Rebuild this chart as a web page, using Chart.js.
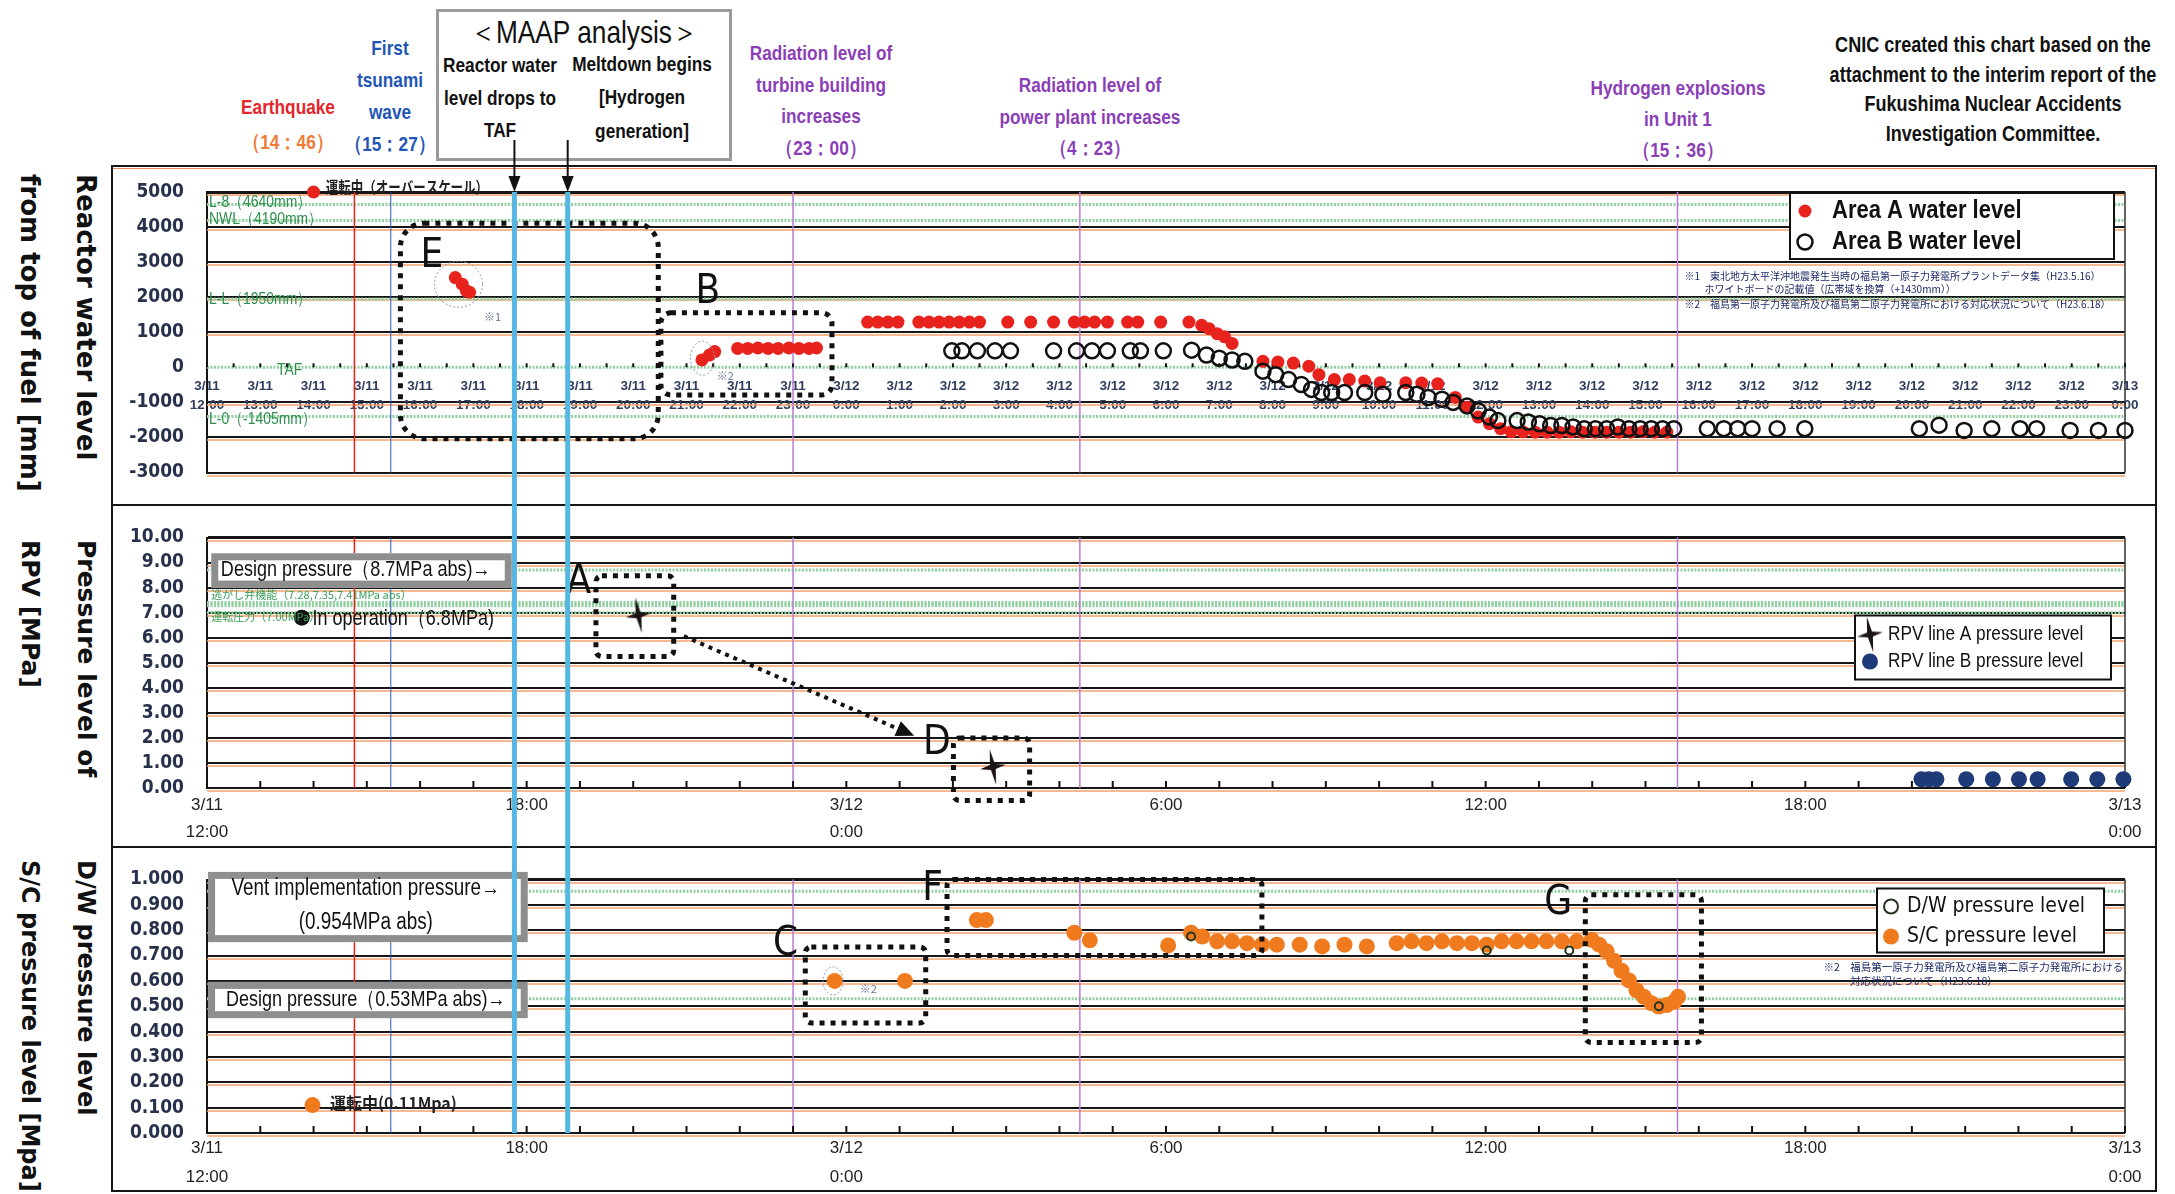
<!DOCTYPE html>
<html lang="en">
<head>
<meta charset="utf-8">
<title>Fukushima Daiichi Unit 1 - water level and pressure</title>
<script src="https://cdn.jsdelivr.net/npm/chart.js@4.4.1/dist/chart.umd.min.js"></script>
<style>
  html, body { margin: 0; padding: 0; background: #fff; }
  #page { position: relative; width: 2175px; height: 1194px; overflow: hidden; background: #fff; }
  .hd { position: absolute; transform: translateX(-50%) scaleX(0.82); text-align: center; white-space: nowrap;
        font-family: 'Liberation Sans', Arimo, sans-serif; font-weight: bold; font-size: 21px; z-index: 2; }
  .ytitle { position: absolute; left: 2px; writing-mode: vertical-rl; white-space: nowrap;
            font-family: 'DejaVu Sans', sans-serif; font-weight: bold; font-size: 25px; line-height: 56px; color: #111; }
  .rule { position: absolute; background: #161616; }
  #maap { position: absolute; left: 436px; top: 9px; width: 290px; height: 146px; border: 3px solid #9a9a9a; background: #fff; z-index: 1; }
  canvas { position: absolute; left: 0; z-index: 3; }
</style>
</head>
<body>
<div id="page">
  <div class="rule" style="left:112px;top:165px;width:2045px;height:2px"></div>
  <div class="rule" style="left:112px;top:168px;width:2045px;height:1px;background:#f08a5a"></div>
  <div class="rule" style="left:112px;top:504px;width:2045px;height:2px"></div>
  <div class="rule" style="left:112px;top:846px;width:2045px;height:2px"></div>
  <div class="rule" style="left:112px;top:1190px;width:2045px;height:2px"></div>
  <div class="rule" style="left:111px;top:165px;width:2px;height:1027px"></div>
  <div class="rule" style="left:2155px;top:165px;width:2px;height:1027px"></div>

  <div class="hd" style="left:288px;top:89px;line-height:35px;color:#e3262b">Earthquake<br><span style="color:#ef7b37">（14：46）</span></div>
  <div class="hd" style="left:390px;top:32px;line-height:32px;color:#1f56b5">First<br>tsunami<br>wave<br>（15：27）</div>
  <div id="maap"></div>
  <div class="hd" style="left:584px;top:12px;line-height:40px;font-size:32px;font-weight:normal;color:#111">＜MAAP analysis＞</div>
  <div class="hd" style="left:500px;top:49px;line-height:32.5px;color:#111">Reactor water<br>level drops to<br>TAF</div>
  <div class="hd" style="left:642px;top:47px;line-height:33.3px;color:#111">Meltdown begins<br>[Hydrogen<br>generation]</div>
  <div class="hd" style="left:821px;top:37px;line-height:31.7px;color:#8b3fb6">Radiation level of<br>turbine building<br>increases<br>（23：00）</div>
  <div class="hd" style="left:1090px;top:69px;line-height:31.7px;color:#8b3fb6">Radiation level of<br>power plant increases<br>（4：23）</div>
  <div class="hd" style="left:1678px;top:73px;line-height:30.8px;color:#8b3fb6">Hydrogen explosions<br>in Unit 1<br>（15：36）</div>
  <div class="hd" style="left:1993px;top:30px;line-height:29.5px;font-size:22px;color:#111">CNIC created this chart based on the<br>attachment to the interim report of the<br>Fukushima Nuclear Accidents<br>Investigation Committee.</div>

  <div class="ytitle" style="top:174px;font-size:26px">Reactor water level<br>from top of fuel [mm]</div>
  <div class="ytitle" style="top:540px">Pressure level of<br>RPV [MPa]</div>
  <div class="ytitle" style="top:860px;font-size:24px">D/W pressure level<br>S/C pressure level [Mpa]</div>

  <canvas id="c1" width="2175" height="365" style="top:140px"></canvas>
  <canvas id="c2" width="2175" height="342" style="top:505px"></canvas>
  <canvas id="c3" width="2175" height="347" style="top:847px"></canvas>
</div>
<script>
const SANS = "'Liberation Sans',Arimo,sans-serif";
const COND = "'DejaVu Sans Condensed','DejaVu Sans',sans-serif";
const JP = "'Noto Sans CJK JP','DejaVu Sans',sans-serif";
const NARROW_X = 0.82;   // horizontal squeeze that turns Liberation Sans into a narrow face

// all times are hours after 3/11 12:00
// reactor water level [mm]
const areaA = [
  [2.00, 5000],
  [4.66, 2560], [4.79, 2370], [4.87, 2180], [4.93, 2140],
  [9.29, 210], [9.43, 350], [9.53, 450], [9.96, 540], [10.15, 540], [10.34, 550], [10.53, 540], [10.72, 540],
  [10.92, 550], [11.11, 540], [11.30, 540], [11.44, 550],
  [12.40, 1290], [12.59, 1290], [12.78, 1290], [12.97, 1290],
  [13.36, 1290], [13.55, 1290], [13.74, 1290], [13.93, 1290], [14.12, 1290], [14.31, 1290], [14.50, 1290],
  [15.03, 1290], [15.46, 1290], [15.89, 1290], [16.28, 1290], [16.47, 1290], [16.66, 1290], [16.90, 1290],
  [17.28, 1290], [17.47, 1290], [17.90, 1290], [18.43, 1290],
  [18.67, 1200], [18.81, 1100], [18.96, 960], [19.10, 870], [19.24, 680],
  [19.82, 170], [20.10, 150], [20.39, 120], [20.68, 30], [20.87, -210], [21.16, -350], [21.44, -350],
  [21.73, -390], [22.02, -440], [22.50, -440], [22.80, -450], [23.10, -470],
  [23.43, -860], [23.65, -1140], [23.86, -1420], [24.07, -1610], [24.28, -1750],
  [24.48, -1840], [24.70, -1840], [24.93, -1850], [25.15, -1850], [25.38, -1850], [25.60, -1840], [25.82, -1850],
  [26.05, -1850], [26.27, -1850], [26.50, -1850], [26.72, -1850], [26.95, -1840], [27.17, -1850], [27.40, -1850]
];
const areaB = [
  [13.98, 470], [14.17, 470], [14.46, 470], [14.79, 470], [15.08, 470],
  [15.89, 470], [16.32, 470], [16.61, 470], [16.90, 470], [17.33, 470], [17.52, 470], [17.95, 470],
  [18.48, 490], [18.76, 350], [19.00, 260], [19.24, 210], [19.48, 170],
  [19.82, -110], [20.06, -210], [20.30, -350], [20.54, -490], [20.73, -630], [20.92, -720], [21.11, -720],
  [21.35, -720], [21.73, -720], [22.07, -770],
  [22.50, -720], [22.71, -770], [22.92, -860], [23.18, -910], [23.39, -1000], [23.65, -1100], [23.86, -1240],
  [24.07, -1420], [24.23, -1520], [24.59, -1520], [24.80, -1560], [25.01, -1610], [25.22, -1660], [25.43, -1660],
  [25.64, -1700], [25.85, -1750], [26.06, -1750], [26.27, -1750], [26.48, -1700], [26.69, -1750], [26.90, -1750],
  [27.11, -1750], [27.32, -1750], [27.53, -1750],
  [28.16, -1750], [28.47, -1750], [28.73, -1750], [29.00, -1750], [29.47, -1750], [29.99, -1750],
  [32.14, -1750], [32.51, -1650], [32.98, -1800], [33.50, -1750], [34.03, -1750], [34.34, -1750],
  [34.97, -1800], [35.50, -1800], [36.00, -1800]
];

// RPV pressure [MPa]
const rpvA = [[8.10, 6.9], [14.75, 0.84]];
const rpvB = [[32.18, 0.35], [32.32, 0.35], [32.46, 0.35], [33.02, 0.35], [33.52, 0.35],
              [34.01, 0.35], [34.36, 0.35], [34.99, 0.35], [35.48, 0.35], [35.97, 0.35]];
const rpvInOperation = [[1.78, 6.8]];

// containment pressure [MPa]
const dwPressure = [[18.47, 0.775], [24.02, 0.72], [25.57, 0.72], [27.25, 0.50]];
const scPressure = [
  [1.98, 0.11],
  [11.78, 0.60], [13.10, 0.60],
  [14.45, 0.84], [14.62, 0.84],
  [16.28, 0.79], [16.57, 0.76],
  [18.04, 0.74], [18.47, 0.79],
  [18.68, 0.775], [18.96, 0.756], [19.24, 0.756], [19.52, 0.749], [19.80, 0.743], [20.08, 0.743], [20.51, 0.743],
  [20.93, 0.736], [21.35, 0.743], [21.77, 0.736], [22.33, 0.749], [22.61, 0.756], [22.89, 0.749], [23.18, 0.756],
  [23.46, 0.749], [23.74, 0.749], [24.02, 0.743], [24.30, 0.756], [24.58, 0.756], [24.86, 0.756], [25.14, 0.756],
  [25.43, 0.756], [25.71, 0.756], [25.99, 0.762],
  [26.13, 0.743], [26.27, 0.717], [26.41, 0.679], [26.55, 0.640], [26.69, 0.602], [26.83, 0.563], [26.97, 0.537],
  [27.11, 0.512], [27.25, 0.499], [27.40, 0.505], [27.54, 0.518], [27.61, 0.537]
];

// events
const eventHours = { earthquake: 2.767, tsunami: 3.45, turbine: 11.0, plant: 16.383, explosion: 27.6 };
const maapHours = [5.77, 6.77];

// reference levels
const waterLevels = [4640, 4190, 1950, 0, -1405];
const waterLevelNames = ['L-8（4640mm）', 'NWL（4190mm）', 'L-L（1950mm）', 'TAF', 'L-0（-1405mm）'];
const rpvLevels = [8.7, 7.41, 7.35, 7.28, 7.0];
const pcvLevels = [0.954, 0.53];

// tick labels
const hourTickDates = ['3/11', '3/11', '3/11', '3/11', '3/11', '3/11', '3/11', '3/11', '3/11', '3/11', '3/11', '3/11',
  '3/12', '3/12', '3/12', '3/12', '3/12', '3/12', '3/12', '3/12', '3/12', '3/12', '3/12', '3/12',
  '3/12', '3/12', '3/12', '3/12', '3/12', '3/12', '3/12', '3/12', '3/12', '3/12', '3/12', '3/12', '3/13'];
const hourTickTimes = ['12:00', '13:00', '14:00', '15:00', '16:00', '17:00', '18:00', '19:00', '20:00', '21:00', '22:00', '23:00',
  '0:00', '1:00', '2:00', '3:00', '4:00', '5:00', '6:00', '7:00', '8:00', '9:00', '10:00', '11:00',
  '12:00', '13:00', '14:00', '15:00', '16:00', '17:00', '18:00', '19:00', '20:00', '21:00', '22:00', '23:00', '0:00'];
const pressureTickHours = [0, 6, 12, 18, 24, 30, 36];
const pressureTickLabels = [['3/11', '12:00'], '18:00', ['3/12', '0:00'], '6:00', '12:00', '18:00', ['3/13', '0:00']];

const xy = pts => pts.map(([x, y]) => ({ x, y }));

const eventLines = [
  { h: eventHours.earthquake, color: '#e2231a', width: 1.5 },
  { h: eventHours.tsunami, color: '#2f55c4', width: 1 },
  { h: eventHours.turbine, color: '#b77bd6', width: 1.5 },
  { h: eventHours.plant, color: '#b77bd6', width: 1.5 },
  { h: eventHours.explosion, color: '#b77bd6', width: 1.5 }
];

// 4 pointed star used for RPV line A
const star = (() => {
  const c = document.createElement('canvas');
  c.width = 36; c.height = 38;
  const g = c.getContext('2d');
  g.translate(18, 19);
  g.rotate(-0.18);
  g.fillStyle = '#1c1414';
  g.beginPath();
  const arm = [18, 13, 18, 13];
  for (let k = 0; k < 4; k++) {
    const a = -Math.PI / 2 + k * Math.PI / 2;
    g.lineTo(Math.cos(a) * arm[k], Math.sin(a) * arm[k]);
    const m = a + Math.PI / 4;
    g.lineTo(Math.cos(m) * 3.5, Math.sin(m) * 3.5);
  }
  g.closePath();
  g.fill();
  return c;
})();

function hline(ctx, x0, x1, y) { ctx.beginPath(); ctx.moveTo(x0, y); ctx.lineTo(x1, y); ctx.stroke(); }
function vline(ctx, x, y0, y1) { ctx.beginPath(); ctx.moveTo(x, y0); ctx.lineTo(x, y1); ctx.stroke(); }

// text with optional horizontal squeeze
function say(ctx, t, x, y, font, color, align, sx) {
  ctx.save();
  ctx.translate(x, y);
  ctx.scale(sx || 1, 1);
  ctx.font = font;
  ctx.fillStyle = color || '#111';
  ctx.textAlign = align || 'left';
  ctx.textBaseline = 'middle';
  ctx.fillText(t, 0, 0);
  ctx.restore();
}

function marker(ctx, ds, cx, cy, r) {
  if (typeof ds.pointStyle === 'object') {
    ctx.drawImage(ds.pointStyle, cx - ds.pointStyle.width / 2, cy - ds.pointStyle.height / 2);
    return;
  }
  ctx.beginPath();
  ctx.arc(cx, cy, r || ds.pointRadius, 0, Math.PI * 2);
  ctx.fillStyle = ds.backgroundColor;
  ctx.fill();
  if (ds.borderWidth) { ctx.lineWidth = ds.borderWidth; ctx.strokeStyle = ds.borderColor; ctx.stroke(); }
}

const overlay = {
  id: 'overlay',
  beforeDatasetsDraw(chart, args, o) {
    const { ctx, chartArea: a, scales: { x, y } } = chart;
    ctx.save();
    // orange companion line under each grid line
    ctx.strokeStyle = '#f3a26c';
    ctx.lineWidth = 1.5;
    y.ticks.forEach(t => {
      if (t.value === o.skip) return;
      hline(ctx, a.left, a.right, Math.round(y.getPixelForValue(t.value)) + 3);
    });
    ctx.strokeStyle = '#333';
    vline(ctx, a.right, a.top, a.bottom);
    // green reference levels
    ctx.strokeStyle = '#8fd2a0';
    ctx.lineWidth = 3;
    ctx.setLineDash([2, 1.5]);
    (o.levels || []).forEach(v => hline(ctx, a.left, a.right, y.getPixelForValue(v)));
    ctx.setLineDash([]);
    (o.levelLabels || []).forEach(l => {
      say(ctx, waterLevelNames[l.i], a.left + l.dx, y.getPixelForValue(waterLevels[l.i]) + l.dy,
        `17px ${SANS}`, '#2e8f4e', 'left', NARROW_X);
    });
    // event lines
    eventLines.forEach(e => {
      ctx.strokeStyle = e.color;
      ctx.lineWidth = e.width;
      vline(ctx, x.getPixelForValue(e.h), a.top, a.bottom);
    });
    // small tick marks along the time axis
    const ty = y.getPixelForValue(o.tickAt);
    ctx.strokeStyle = '#111';
    ctx.lineWidth = 2;
    for (let h = 0; h <= 36; h += o.tickStep) {
      vline(ctx, x.getPixelForValue(h), ty - o.tickLen, ty);
    }
    ctx.restore();
  },
  afterDatasetsDraw(chart, args, o) {
    const { ctx, chartArea: a, scales: { x, y } } = chart;
    const X = v => x.getPixelForValue(v);
    const Y = v => y.getPixelForValue(v);
    ctx.save();
    // thin dotted ellipses round the footnoted points
    ctx.strokeStyle = '#8a97a8';
    ctx.lineWidth = 1;
    ctx.setLineDash([2, 2]);
    (o.ellipses || []).forEach(e => {
      ctx.beginPath();
      ctx.ellipse(X(e.x), Y(e.y), e.rx, e.ry, 0, 0, Math.PI * 2);
      ctx.stroke();
    });
    // dotted callout boxes
    ctx.strokeStyle = '#111';
    ctx.lineWidth = 5;
    ctx.setLineDash([5, 6]);
    (o.boxes || []).forEach(b => {
      ctx.beginPath();
      ctx.roundRect(X(b.x0), Y(b.y0), X(b.x1) - X(b.x0), Y(b.y1) - Y(b.y0), b.r || 6);
      ctx.stroke();
    });
    if (o.arrow) {
      const ar = o.arrow;
      const x0 = X(ar.x0), y0 = Y(ar.y0), x1 = X(ar.x1), y1 = Y(ar.y1);
      ctx.lineWidth = 4;
      ctx.setLineDash([4, 5]);
      ctx.beginPath(); ctx.moveTo(x0, y0); ctx.lineTo(x1, y1); ctx.stroke();
      ctx.setLineDash([]);
      const ang = Math.atan2(y1 - y0, x1 - x0);
      ctx.fillStyle = '#111';
      ctx.beginPath();
      ctx.moveTo(x1 + 6 * Math.cos(ang), y1 + 6 * Math.sin(ang));
      ctx.lineTo(x1 - 12 * Math.cos(ang) + 8 * Math.sin(ang), y1 - 12 * Math.sin(ang) - 8 * Math.cos(ang));
      ctx.lineTo(x1 - 12 * Math.cos(ang) - 8 * Math.sin(ang), y1 - 12 * Math.sin(ang) + 8 * Math.cos(ang));
      ctx.closePath();
      ctx.fill();
    }
    ctx.setLineDash([]);
    // grey framed notes
    (o.labelBoxes || []).forEach(b => {
      const x0 = X(b.x0), x1 = X(b.x1), y0 = Y(b.y0), y1 = Y(b.y1);
      ctx.fillStyle = '#fff';
      ctx.fillRect(x0, y0, x1 - x0, y1 - y0);
      ctx.strokeStyle = '#8e8e8e';
      ctx.lineWidth = 7;
      ctx.strokeRect(x0 + 3.5, y0 + 3.5, x1 - x0 - 7, y1 - y0 - 7);
    });
    (o.texts || []).forEach(t => say(ctx, t.t, X(t.x), Y(t.y), t.font, t.color, t.align, t.sx));
    (o.letters || []).forEach(t => say(ctx, t.t, X(t.x), Y(t.y), `40px ${COND}`, '#111', 'center'));
    // MAAP times: thick cyan lines crossing all panels
    if (o.cyan) {
      ctx.strokeStyle = '#56b8e2';
      ctx.lineWidth = 5;
      const top = o.cyan.top === 'area' ? a.top : 0;
      const bottom = o.cyan.bottom === 'area' ? a.bottom : chart.height;
      maapHours.forEach(h => vline(ctx, X(h), top, bottom));
      if (o.cyan.arrows) {
        ctx.strokeStyle = '#111';
        ctx.fillStyle = '#111';
        ctx.lineWidth = 2;
        maapHours.forEach(h => {
          const px = X(h);
          vline(ctx, px, 0, a.top - 12);
          ctx.beginPath();
          ctx.moveTo(px - 6, a.top - 16); ctx.lineTo(px + 6, a.top - 16); ctx.lineTo(px, a.top);
          ctx.closePath(); ctx.fill();
        });
      }
    }
    // legend box
    if (o.legend) {
      const L = o.legend;
      const bx = a.right - L.right - L.w, by = a.top + L.top;
      ctx.fillStyle = '#fff';
      ctx.fillRect(bx, by, L.w, L.h);
      ctx.strokeStyle = '#111';
      ctx.lineWidth = 2;
      ctx.strokeRect(bx, by, L.w, L.h);
      L.items.forEach((di, k) => {
        const ds = chart.data.datasets[di];
        marker(ctx, ds, bx + L.mx, by + L.rows[k], L.radius ? L.radius[k] : 0);
        say(ctx, ds.label, bx + L.tx, by + L.rows[k], L.font, '#111', 'left', L.sx);
      });
    }
    ctx.restore();
  }
};

function valueAxis(min, max, step, digits, skip) {
  return {
    min, max,
    ticks: {
      stepSize: step, autoSkip: false, padding: 23, color: '#27314b',
      font: { family: COND, size: 19, weight: 'bold', lineHeight: 1 },
      callback: v => digits ? Number(v).toFixed(digits) : String(v)
    },
    grid: {
      drawTicks: false,
      color: c => (c.tick && c.tick.value === skip) ? 'rgba(0,0,0,0)' : '#161616',
      lineWidth: c => (c.tick && c.tick.value === max) ? 3 : 2
    },
    border: { color: '#161616', width: 2 },
    afterFit: s => { s.width = 207; }
  };
}

function pressureTimeAxis(lineHeight, padding, height) {
  return {
    type: 'linear', min: 0, max: 36, position: 'bottom',
    ticks: {
      stepSize: 1, autoSkip: false, maxRotation: 0, padding, color: '#222',
      font: { family: SANS, size: 17, lineHeight },
      callback: v => { const k = pressureTickHours.indexOf(v); return k < 0 ? '' : pressureTickLabels[k]; }
    },
    grid: { display: false, drawTicks: false },
    border: { display: false },
    afterFit: s => { s.height = height; }
  };
}

const base = { responsive: false, animation: false, events: [] };

// reactor water level
new Chart(document.getElementById('c1'), {
  type: 'scatter',
  data: {
    datasets: [
      { label: 'Area A water level', data: xy(areaA), order: 2, pointRadius: 6.5, backgroundColor: '#e8231e',
        borderColor: '#e8231e', borderWidth: 0, clip: false },
      { label: 'Area B water level', data: xy(areaB), order: 1, pointRadius: 7.5, backgroundColor: 'rgba(255,255,255,0)',
        borderColor: '#111', borderWidth: 2.5, clip: false }
    ]
  },
  options: {
    ...base,
    layout: { padding: { left: 0, right: 50, top: 52, bottom: 28 } },
    scales: {
      x: {
        type: 'linear', min: 0, max: 36, position: { y: 0 },
        ticks: {
          stepSize: 1, autoSkip: false, maxRotation: 0, padding: 10, color: '#2f3d5e',
          font: { family: SANS, size: 13.5, weight: 'bold', lineHeight: 1.36 },
          callback: (v, i) => [hourTickDates[i], hourTickTimes[i]]
        },
        grid: { display: false, drawTicks: false },
        border: { display: false }
      },
      y: valueAxis(-3000, 5000, 1000, 0, 0)
    },
    plugins: {
      legend: { display: false },
      tooltip: { enabled: false },
      overlay: {
        skip: 0, tickAt: 0, tickStep: 0.5, tickLen: 4,
        levels: waterLevels,
        levelLabels: [{ i: 0, dx: 2, dy: -2 }, { i: 1, dx: 2, dy: -1 }, { i: 2, dx: 2, dy: 0 }, { i: 3, dx: 70, dy: 3 }, { i: 4, dx: 2, dy: 3 }],
        cyan: { top: 'area', bottom: 'canvas', arrows: true },
        ellipses: [{ x: 4.72, y: 2368, rx: 24, ry: 23 }, { x: 9.3, y: 260, rx: 12, ry: 17 }],
        boxes: [{ x0: 3.63, x1: 8.47, y0: 4110, y1: -2035, r: 24 }, { x0: 8.52, x1: 11.73, y0: 1553, y1: -787, r: 10 }],
        letters: [{ t: 'E', x: 4.22, y: 3160 }, { t: 'B', x: 9.40, y: 2135 }],
        texts: [
          { t: '運転中（オーバースケール）', x: 2.23, y: 5140, font: `bold 16px ${JP}`, color: '#1f1f1f', sx: 0.78 },
          { t: '※1', x: 5.2, y: 1440, font: `11px ${JP}`, color: '#6a7390' },
          { t: '※2', x: 9.57, y: -240, font: `11px ${JP}`, color: '#6a7390' },
          { t: '※1　東北地方太平洋沖地震発生当時の福島第一原子力発電所プラントデータ集（H23.5.16）', x: 27.73, y: 2600, font: `10px ${JP}`, color: '#1d2a66' },
          { t: '　　ホワイトボードの記載値（広帯域を換算（+1430mm））', x: 27.73, y: 2228, font: `10px ${JP}`, color: '#1d2a66' },
          { t: '※2　福島第一原子力発電所及び福島第二原子力発電所における対応状況について（H23.6.18）', x: 27.73, y: 1806, font: `10px ${JP}`, color: '#1d2a66' }
        ],
        legend: { right: 11, top: 1, w: 324, h: 66, mx: 15, tx: 42, rows: [18, 49], font: `bold 25px ${SANS}`, sx: 0.88, items: [0, 1] }
      }
    }
  },
  plugins: [overlay]
});

// RPV pressure
new Chart(document.getElementById('c2'), {
  type: 'scatter',
  data: {
    datasets: [
      { label: 'RPV line A pressure level', data: xy(rpvA), pointStyle: star, pointRadius: 16, clip: false },
      { label: 'RPV line B pressure level', data: xy(rpvB), pointRadius: 8, backgroundColor: '#1f3a78',
        borderColor: '#1f3a78', borderWidth: 0, clip: false },
      { label: 'In operation', data: xy(rpvInOperation), pointRadius: 8, backgroundColor: '#111',
        borderColor: '#111', borderWidth: 0, clip: false }
    ]
  },
  options: {
    ...base,
    layout: { padding: { left: 0, right: 50, top: 26, bottom: 3 } },
    scales: { x: pressureTimeAxis(1.58, 4, 56), y: valueAxis(0, 10, 1, 2) },
    plugins: {
      legend: { display: false },
      tooltip: { enabled: false },
      overlay: {
        tickAt: 0, tickStep: 1, tickLen: 7,
        levels: rpvLevels,
        cyan: { top: 'canvas', bottom: 'canvas' },
        boxes: [{ x0: 7.3, x1: 8.76, y0: 8.47, y1: 5.25 }, { x0: 14.01, x1: 15.44, y0: 2.0, y1: -0.5 }],
        arrow: { x0: 8.95, y0: 6.06, x1: 13.17, y1: 2.18 },
        letters: [{ t: 'A', x: 6.98, y: 8.2 }, { t: 'D', x: 13.7, y: 1.77 }],
        labelBoxes: [{ x0: 0.08, x1: 5.72, y0: 9.37, y1: 8.0 }],
        texts: [
          { t: 'Design pressure（8.7MPa abs)→', x: 0.26, y: 8.72, font: `22px ${SANS}`, sx: NARROW_X },
          { t: '逃がし弁機能（7.28,7.35,7.41MPa abs）', x: 0.08, y: 7.7, font: `11px ${JP}`, color: '#3aa05a' },
          { t: '運転圧力（7.00MPa）', x: 0.08, y: 6.82, font: `11px ${JP}`, color: '#3aa05a' },
          { t: 'In operation（6.8MPa)', x: 1.98, y: 6.73, font: `22px ${SANS}`, sx: NARROW_X }
        ],
        legend: { right: 14, top: 78, w: 256, h: 64, mx: 15, tx: 33, rows: [19, 46], font: `21px ${SANS}`, sx: NARROW_X, items: [0, 1] }
      }
    }
  },
  plugins: [overlay]
});

// D/W and S/C pressure
new Chart(document.getElementById('c3'), {
  type: 'scatter',
  data: {
    datasets: [
      { label: 'D/W pressure level', data: xy(dwPressure), order: 0, pointRadius: 4, backgroundColor: 'rgba(255,255,255,0)',
        borderColor: '#24351f', borderWidth: 2, clip: false },
      { label: 'S/C pressure level', data: xy(scPressure), order: 1, pointRadius: 8, backgroundColor: '#f07b1f',
        borderColor: '#f07b1f', borderWidth: 0, clip: false }
    ]
  },
  options: {
    ...base,
    layout: { padding: { left: 0, right: 50, top: 26, bottom: 3 } },
    scales: { x: pressureTimeAxis(1.68, 1, 58), y: valueAxis(0, 1, 0.1, 3) },
    plugins: {
      legend: { display: false },
      tooltip: { enabled: false },
      overlay: {
        tickAt: 0, tickStep: 1, tickLen: 7,
        levels: pcvLevels,
        cyan: { top: 'canvas', bottom: 'area' },
        ellipses: [{ x: 11.75, y: 0.6, rx: 10, ry: 14 }],
        boxes: [
          { x0: 11.23, x1: 13.49, y0: 0.734, y1: 0.434 },
          { x0: 13.89, x1: 19.8, y0: 1.0, y1: 0.70 },
          { x0: 25.87, x1: 28.05, y0: 0.94, y1: 0.357 }
        ],
        letters: [{ t: 'C', x: 10.86, y: 0.742 }, { t: 'F', x: 13.62, y: 0.962 }, { t: 'G', x: 25.36, y: 0.905 }],
        labelBoxes: [{ x0: 0.02, x1: 6.02, y0: 1.03, y1: 0.753 }, { x0: 0.02, x1: 6.02, y0: 0.596, y1: 0.453 }],
        texts: [
          { t: 'Vent implementation pressure→', x: 2.98, y: 0.962, font: `23px ${SANS}`, align: 'center', sx: NARROW_X },
          { t: '(0.954MPa abs)', x: 2.98, y: 0.831, font: `23px ${SANS}`, align: 'center', sx: NARROW_X },
          { t: 'Design pressure（0.53MPa abs)→', x: 2.98, y: 0.523, font: `22px ${SANS}`, align: 'center', sx: NARROW_X },
          { t: '運転中(0.11Mpa)', x: 2.31, y: 0.12, font: `bold 16px ${JP}`, color: '#1f1f1f' },
          { t: '※2', x: 12.25, y: 0.57, font: `11px ${JP}`, color: '#6a7390' },
          { t: '※2　福島第一原子力発電所及び福島第二原子力発電所における', x: 30.34, y: 0.654, font: `10.5px ${JP}`, color: '#1d2a66' },
          { t: '対応状況について（H23.6.18）', x: 30.84, y: 0.60, font: `10.5px ${JP}`, color: '#1d2a66' }
        ],
        legend: { right: 21, top: 9, w: 227, h: 64, mx: 14, tx: 30, rows: [18, 48], radius: [7, 8], font: `21px ${COND}`, items: [0, 1] }
      }
    }
  },
  plugins: [overlay]
});
</script>
</body>
</html>
